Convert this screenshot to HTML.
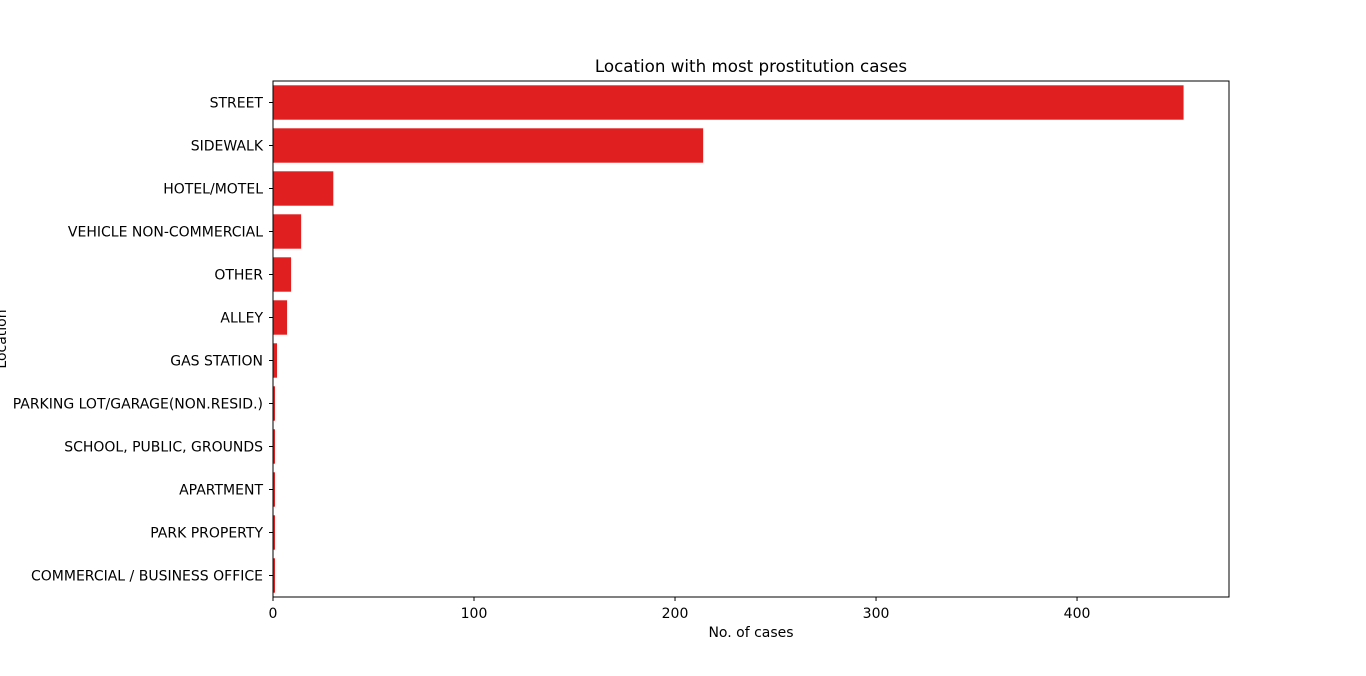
<!DOCTYPE html>
<html><head><meta charset="utf-8"><style>
body{margin:0;background:#fff;}
svg text{font-family:"DejaVu Sans","Liberation Sans",sans-serif;font-size:14px;fill:#000;}
</style></head><body>
<svg id="chart" width="1366" height="671" xmlns="http://www.w3.org/2000/svg"></svg>
<script>
const categories=["STREET","SIDEWALK","HOTEL/MOTEL","VEHICLE NON-COMMERCIAL","OTHER","ALLEY","GAS STATION","PARKING LOT/GARAGE(NON.RESID.)","SCHOOL, PUBLIC, GROUNDS","APARTMENT","PARK PROPERTY","COMMERCIAL / BUSINESS OFFICE"];
const counts=[453,214,30,14,9,7,2,1,1,1,1,1];
const xTicks=[0,100,200,300,400];
const svg=document.getElementById('chart');
const NS='http://www.w3.org/2000/svg';
const L=273,R=1229,T=81,B=597,xMax=475.6;
const x=v=>L+v/xMax*(R-L);
const band=(B-T)/categories.length;
const y=i=>T+i*band;
function mk(tag,attrs,parent){const e=document.createElementNS(NS,tag);for(const k in attrs)e.setAttribute(k,attrs[k]);(parent||svg).appendChild(e);return e;}
categories.forEach((c,i)=>{
  const r=mk('rect',{x:x(0),y:y(i)+band*0.1,width:x(counts[i])-x(0),height:band*0.8,fill:'#e02020'});
  
  
  const cy=y(i)+band/2;
  mk('line',{x1:L-4,x2:L,y1:cy,y2:cy,stroke:'#000','stroke-width':1});
  const t=mk('text',{x:L-10,y:cy+5,'text-anchor':'end'});t.textContent=c;
  
  
});
mk('rect',{x:L,y:T,width:R-L,height:B-T,fill:'none',stroke:'#000','stroke-width':1});
xTicks.forEach(v=>{
  mk('line',{x1:x(v),x2:x(v),y1:B,y2:B+4,stroke:'#000','stroke-width':1});
  const t=mk('text',{x:x(v),y:B+21,'text-anchor':'middle'});t.textContent=v;
  
  
});
let t=mk('text',{x:(L+R)/2,y:637,'text-anchor':'middle'});t.textContent='No. of cases';


t=mk('text',{x:0,y:0,'text-anchor':'middle',transform:'translate(6,339) rotate(-90)'});t.textContent='Location';


t=mk('text',{x:(L+R)/2,y:72,'text-anchor':'middle',style:'font-size:16.7px'});t.textContent='Location with most prostitution cases';


</script>
</body></html>
